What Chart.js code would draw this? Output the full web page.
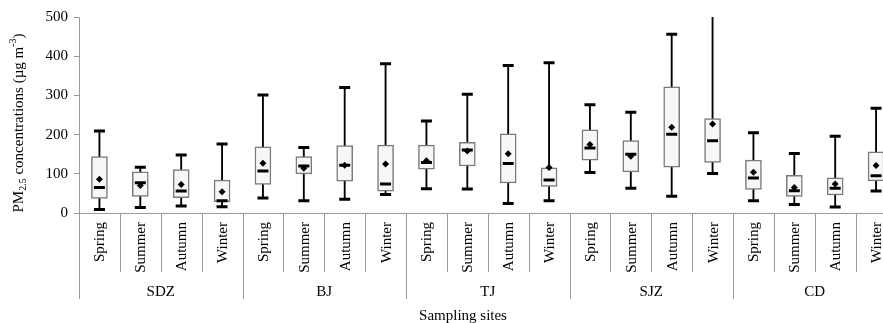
<!DOCTYPE html>
<html>
<head>
<meta charset="utf-8">
<script src="https://cdn.jsdelivr.net/npm/chart.js@4"></script>
<style>
  html, body { margin: 0; padding: 0; background: #fff; overflow: hidden; }
  #wrap { width: 905px; height: 323px; }
</style>
</head>
<body>
<div id="wrap"><canvas id="pm-chart" width="905" height="323"></canvas></div>
<script>
// Sites and seasons (x categories)
const sites = ['SDZ', 'BJ', 'TJ', 'SJZ', 'CD'];
const seasons = ['Spring', 'Summer', 'Autumn', 'Winter'];

// Box plot statistics, one value per site/season (SDZ..CD, Spring..Winter)
const minValues    = [9, 14, 18, 16,   38, 31, 35, 47,   62, 61, 24, 31,   103, 63, 43, 101,   31, 22, 15, 56];
const q1Values     = [37, 42, 39, 29,  73, 100, 81, 56,  112, 120, 77, 68,  135, 105, 117, 129,  60, 42, 46, 82];
const medianValues = [65, 77, 56, 31,  107, 120, 122, 74,  129, 161, 126, 84,  166, 150, 201, 184,  89, 57, 63, 95];
const q3Values     = [144, 105, 111, 84,  169, 144, 172, 173,  173, 180, 202, 115,  212, 185, 322, 241,  135, 96, 90, 156];
const maxValues    = [209, 117, 148, 176,  301, 167, 320, 381,  235, 303, 376, 383,  276, 257, 456, 560,  205, 152, 196, 267];
const meanValues   = [86, 70, 73, 54,  127, 114, 122, 125,  133, 158, 151, 116,  175, 145, 219, 227,  104, 65, 74, 121];

// Y axis ticks
const yTicks = [0, 100, 200, 300, 400, 500];

const labels = [];
sites.forEach(s => seasons.forEach(season => labels.push(s + ' ' + season)));

const serif = "'Liberation Serif', 'Times New Roman', serif";
const gridGray = '#9a9a9a';

// Draws the two-level category axis and the y axis title
const axisLabels = {
  id: 'axisLabels',
  afterDraw(chart) {
    const { ctx, chartArea, scales: { x } } = chart;
    const n = labels.length;
    const step = (x.right - x.left) / n;
    const top = chartArea.bottom;
    ctx.save();
    ctx.strokeStyle = gridGray;
    ctx.lineWidth = 1;
    for (let i = 0; i <= n; i++) {
      const px = Math.round(x.left + i * step) + 0.5;
      ctx.beginPath();
      ctx.moveTo(px, top);
      ctx.lineTo(px, top + (i % seasons.length === 0 ? 86 : 59));
      ctx.stroke();
    }
    ctx.fillStyle = '#000';
    ctx.font = '15px ' + serif;
    // season labels, rotated
    labels.forEach((l, i) => {
      const px = x.getPixelForValue(i);
      ctx.save();
      ctx.translate(px + 1, top + 9);
      ctx.rotate(-Math.PI / 2);
      ctx.textAlign = 'right';
      ctx.textBaseline = 'middle';
      ctx.fillText(seasons[i % seasons.length], 0, 0);
      ctx.restore();
    });
    // site labels
    ctx.textAlign = 'center';
    ctx.textBaseline = 'middle';
    sites.forEach((s, j) => {
      const px = x.left + (j * seasons.length + seasons.length / 2) * step;
      ctx.fillText(s, px, top + 79);
    });
    ctx.fillText('Sampling sites', 463, top + 103);

    // y axis title with sub/superscripts
    const parts = [
      { t: 'PM', size: 15, dy: 0 },
      { t: '2.5', size: 10, dy: 4 },
      { t: ' concentrations (\u00b5g m', size: 15, dy: 0 },
      { t: '-3', size: 10, dy: -6 },
      { t: ')', size: 15, dy: 0 },
    ];
    let total = 0;
    parts.forEach(p => { ctx.font = p.size + 'px ' + serif; p.w = ctx.measureText(p.t).width; total += p.w; });
    ctx.translate(19, 123);
    ctx.rotate(-Math.PI / 2);
    ctx.textAlign = 'left';
    let cx = -total / 2;
    parts.forEach(p => {
      ctx.font = p.size + 'px ' + serif;
      ctx.fillText(p.t, cx, p.dy);
      cx += p.w;
    });
    ctx.restore();
  },
};

const ctx = document.getElementById('pm-chart');
const chart = new Chart(ctx, {
  type: 'bar',
  data: {
    labels: labels,
    datasets: [
      // Mean markers
      {
        type: 'line',
        label: 'Mean',
        data: meanValues,
        showLine: false,
        pointStyle: 'rectRot',
        pointRadius: 3.5,
        backgroundColor: '#000',
        borderColor: '#000',
        borderWidth: 0,
        order: 0,
      },
      // Median bars
      {
        type: 'line',
        label: 'Median',
        data: medianValues,
        showLine: false,
        pointStyle: 'line',
        pointRadius: 5.5,
        borderColor: '#000',
        pointBorderWidth: 3,
        order: 1,
      },
      // Upper caps
      {
        type: 'line',
        label: 'Max',
        data: maxValues,
        showLine: false,
        pointStyle: 'line',
        pointRadius: 5.5,
        borderColor: '#000',
        pointBorderWidth: 3,
        order: 2,
      },
      // Lower caps
      {
        type: 'line',
        label: 'Min',
        data: minValues,
        showLine: false,
        pointStyle: 'line',
        pointRadius: 5.5,
        borderColor: '#000',
        pointBorderWidth: 3,
        order: 3,
      },
      // Boxes
      {
        label: 'IQR',
        data: q1Values.map((q, i) => [q, q3Values[i]]),
        backgroundColor: '#f7f7f7',
        borderColor: '#7a7a7a',
        borderWidth: 1.5,
        borderSkipped: false,
        barThickness: 16,
        grouped: false,
        order: 4,
      },
      // Whiskers
      {
        label: 'Range',
        data: minValues.map((m, i) => [m, maxValues[i]]),
        backgroundColor: '#000',
        borderWidth: 0,
        barThickness: 1.2,
        grouped: false,
        order: 5,
      },
    ],
  },
  options: {
    responsive: false,
    animation: false,
    layout: {
      padding: { top: 17, right: 6, left: 0, bottom: 0 },
    },
    scales: {
      x: {
        offset: true,
        grid: { display: false, offset: true },
        border: { color: gridGray, width: 1 },
        ticks: { display: false },
        afterFit: (scale) => { scale.height = 110; },
      },
      y: {
        min: 0,
        max: 500,
        afterBuildTicks: (scale) => { scale.ticks = yTicks.map(v => ({ value: v })); },
        grid: { drawOnChartArea: false, tickLength: 5, color: gridGray },
        border: { color: gridGray, width: 1 },
        ticks: {
          color: '#000',
          font: { family: serif, size: 15 },
          padding: 6,
        },
        afterFit: (scale) => { scale.width = 79; },
      },
    },
    plugins: {
      legend: { display: false },
      tooltip: { enabled: false },
    },
  },
  plugins: [axisLabels],
});
</script>
</body>
</html>
